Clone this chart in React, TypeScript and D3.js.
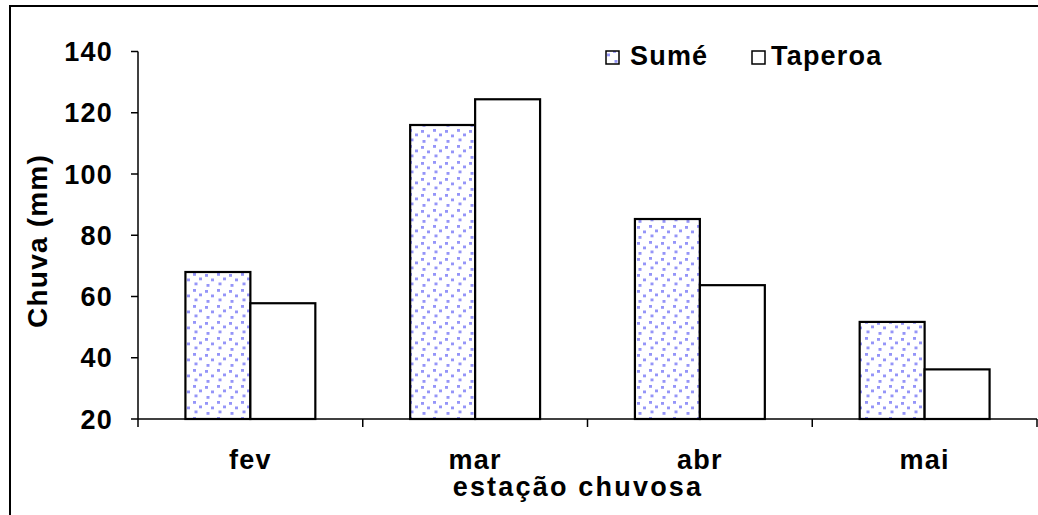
import React from "react";
import * as d3 from "d3";

// Monthly rainfall during the rainy season
const months = ["fev", "mar", "abr", "mai"];
const sumeValues = [68, 116, 85.3, 51.7];
const taperoaValues = [57.8, 124.4, 63.7, 36.2];
const seriesNames = ["Sumé", "Taperoa"];
const yTicks = [20, 40, 60, 80, 100, 120, 140];

const W = 1038;
const H = 515;
const FONT = "'Liberation Sans', Arial, Helvetica, sans-serif";

// dot positions for the confetti fill tile (24 x 16)
const dotTile = [
  [1, 1],
  [13, 2],
  [7, 5.5],
  [19, 6.5],
  [2.5, 10.5],
  [14.5, 12],
];

export default function App() {
  const x0 = 138;
  const x1 = 1037;
  const yTop = 51.5;
  const yBottom = 419;

  const x = d3.scaleBand<string>().domain(months).range([x0, x1]).paddingInner(0).paddingOuter(0);
  const inner = d3
    .scaleBand<string>()
    .domain(seriesNames)
    .range([0, x.bandwidth()])
    .paddingInner(0)
    .paddingOuter(0.73);
  const y = d3.scaleLinear().domain([20, 140]).range([yBottom, yTop]);

  const values = [sumeValues, taperoaValues];
  const fills = ["url(#dots)", "#ffffff"];

  const textStyle: React.CSSProperties = {
    fontFamily: FONT,
    fontWeight: "bold",
    fontSize: 27,
    letterSpacing: 1.2,
    fill: "#000",
  };

  return (
    <svg
      width={W}
      height={H}
      style={{ position: "absolute", left: 0, top: 0, background: "#fff" }}
    >
      <defs>
        <pattern id="dots" width="24" height="16" patternUnits="userSpaceOnUse">
          <rect width="24" height="16" fill="#ffffff" />
          {dotTile.map(([dx, dy], k) => (
            <rect key={k} x={dx} y={dy} width={3} height={2.8} fill="#9595f8" />
          ))}
        </pattern>
      </defs>

      {/* chart frame */}
      <rect x={10} y={6} width={1200} height={700} fill="none" stroke="#000" strokeWidth={2} />

      {/* bars */}
      {months.map((m, i) =>
        seriesNames.map((s, j) => {
          const v = values[j][i];
          const bx = (x(m) ?? 0) + (inner(s) ?? 0);
          return (
            <rect
              key={m + s}
              x={bx}
              y={y(v)}
              width={inner.bandwidth()}
              height={yBottom - y(v)}
              fill={fills[j]}
              stroke="#000"
              strokeWidth={2.2}
            />
          );
        })
      )}

      {/* y axis */}
      <line x1={x0} x2={x0} y1={yTop} y2={yBottom} stroke="#000" strokeWidth={1.5} />
      {yTicks.map((t) => (
        <g key={t}>
          <line x1={x0 - 7} x2={x0} y1={y(t)} y2={y(t)} stroke="#000" strokeWidth={1.5} />
          <text x={113} y={y(t)} dy="0.36em" textAnchor="end" style={textStyle}>
            {t}
          </text>
        </g>
      ))}

      {/* x axis */}
      <line x1={x0} x2={x1} y1={yBottom} y2={yBottom} stroke="#000" strokeWidth={1.5} />
      {[...months.map((m) => x(m) ?? 0), x1].map((tx, i) => (
        <line key={i} x1={tx} x2={tx} y1={yBottom} y2={yBottom + 8} stroke="#000" strokeWidth={1.5} />
      ))}
      {months.map((m) => (
        <text
          key={m}
          x={(x(m) ?? 0) + x.bandwidth() / 2}
          y={469}
          textAnchor="middle"
          style={textStyle}
        >
          {m}
        </text>
      ))}

      {/* axis titles */}
      <text x={578} y={496} textAnchor="middle" style={{ ...textStyle, letterSpacing: 2.2 }}>
        estação chuvosa
      </text>
      <text
        transform={`translate(47, 241) rotate(-90)`}
        textAnchor="middle"
        style={{ ...textStyle, fontSize: 28 }}
      >
        Chuva (mm)
      </text>

      {/* legend */}
      <rect x={606} y={51} width={13} height={13} fill="url(#dots)" stroke="#000" strokeWidth={1.5} />
      <text x={630} y={65} style={textStyle}>
        {seriesNames[0]}
      </text>
      <rect x={752} y={51} width={13} height={13} fill="#fff" stroke="#000" strokeWidth={1.5} />
      <text x={771} y={65} style={textStyle}>
        {seriesNames[1]}
      </text>
    </svg>
  );
}
